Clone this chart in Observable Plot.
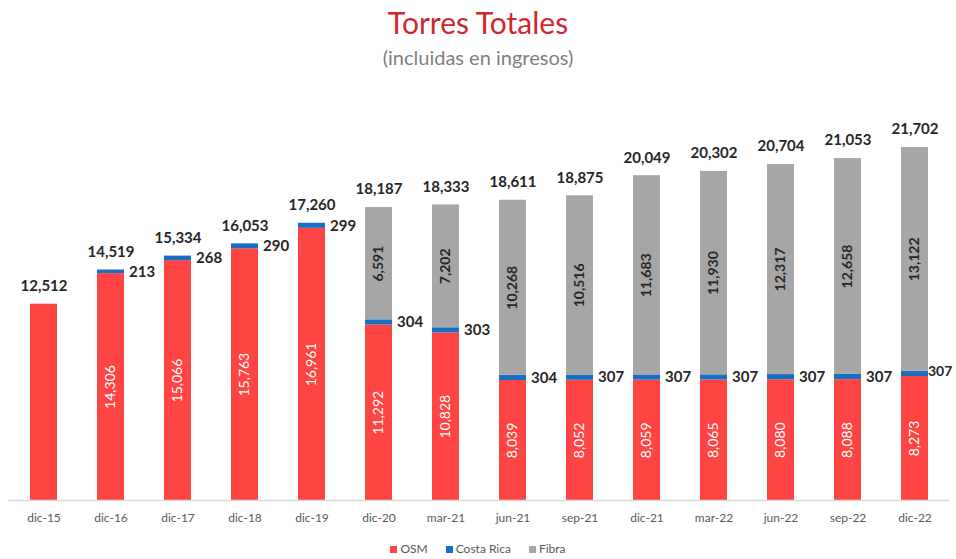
<!DOCTYPE html>
<html>
<head>
<meta charset="utf-8">
<script src="https://cdn.jsdelivr.net/npm/d3@7"></script>
<script src="https://cdn.jsdelivr.net/npm/@observablehq/plot@0.6"></script>
<style>
  html, body { margin: 0; padding: 0; background: #fff; }
  body { width: 956px; height: 559px; overflow: hidden; font-family: Lato, "Open Sans", sans-serif; }
  #head { height: 80px; text-align: center; }
  #title { padding-top: 4px; font-size: 30px; line-height: 36px; color: #d0282e; }
  #subtitle { margin-top: 5px; font-size: 20px; line-height: 24px; color: #7f7f7f; }
  #legend { height: 24px; line-height: 28px; text-align: center; font-size: 12px; color: #595959; }
  #legend span.item { margin: 0 9px; }
  #legend span.sw { display: inline-block; width: 7px; height: 7px; margin-right: 3px; vertical-align: 0px; }
</style>
</head>
<body>
<div id="head">
  <div id="title">Torres Totales</div>
  <div id="subtitle">(incluidas en ingresos)</div>
</div>
<div id="chart"></div>
<div id="legend"></div>
<script>
const categories = ["dic-15","dic-16","dic-17","dic-18","dic-19","dic-20","mar-21","jun-21","sep-21","dic-21","mar-22","jun-22","sep-22","dic-22"];
const osm       = [12512, 14306, 15066, 15763, 16961, 11292, 10828, 8039, 8052, 8059, 8065, 8080, 8088, 8273];
const costaRica = [0, 213, 268, 290, 299, 304, 303, 304, 307, 307, 307, 307, 307, 307];
const fibra     = [0, 0, 0, 0, 0, 6591, 7202, 10268, 10516, 11683, 11930, 12317, 12658, 13122];
const totals    = [12512, 14519, 15334, 16053, 17260, 18187, 18333, 18611, 18875, 20049, 20302, 20704, 21053, 21702];
const seriesNames = ["OSM", "Costa Rica", "Fibra"];
const seriesColors = ["#ff4444", "#1a6ec2", "#a6a6a6"];

const yMin = 1000;
const fmt = d3.format(",");

const rows = [];
categories.forEach((c, i) => {
  [osm[i], costaRica[i], fibra[i]].forEach((v, k) => {
    if (v > 0) rows.push({cat: c, series: seriesNames[k], value: v});
  });
});
const info = categories.map((c, i) => ({cat: c, osm: osm[i], cr: costaRica[i], fibra: fibra[i], total: totals[i], idx: i}));
const last = categories.length - 1;
const crInfo = info.filter(d => d.cr > 0 && d.idx !== last);
const crLast = info.filter(d => d.cr > 0 && d.idx === last);

const chart = Plot.plot({
  width: 956,
  height: 455,
  marginLeft: 8,
  marginRight: 7,
  marginTop: 20,
  marginBottom: 35,
  style: {fontFamily: "Lato, 'Open Sans', sans-serif", background: "#fff"},
  x: {domain: categories, paddingInner: 0.6, paddingOuter: 0.3, label: null, tickSize: 0, tickPadding: 13},
  y: {domain: [yMin, 24460], axis: null},
  color: {domain: seriesNames, range: seriesColors},
  marks: [
    Plot.barY(rows, {x: "cat", y: "value", fill: "series", clip: true}),
    Plot.ruleY([yMin], {stroke: "#d9d9d9", strokeWidth: 1.5}),
    Plot.axisX({tickSize: 0, tickPadding: 13, fontSize: 12, color: "#595959", label: null}),
    Plot.text(info, {x: "cat", y: "total", text: d => fmt(d.total), dy: -18, fontSize: 15, fontWeight: "bold", fill: "#262626"}),
    Plot.text(crInfo, {x: "cat", y: d => d.osm + d.cr / 2, text: d => fmt(d.cr), dx: 18, textAnchor: "start", fontSize: 15, fontWeight: "bold", fill: "#262626"}),
    Plot.text(crLast, {x: "cat", y: d => d.osm + d.cr / 2, text: d => fmt(d.cr), dx: 13, dy: -2, textAnchor: "start", fontSize: 14, fontWeight: "bold", fill: "#262626"}),
    Plot.text(info.filter(d => d.cr > 0), {x: "cat", y: d => (yMin + d.osm) / 2, text: d => fmt(d.osm), rotate: -90, fontSize: 14, fill: "#ffffff"}),
    Plot.text(info.filter(d => d.fibra > 0), {x: "cat", y: d => d.osm + d.cr + d.fibra / 2, text: d => fmt(d.fibra), rotate: -90, fontSize: 14, fontWeight: "bold", fill: "#262626"})
  ]
});
document.getElementById("chart").appendChild(chart);

const legend = document.getElementById("legend");
seriesNames.forEach((name, k) => {
  const item = document.createElement("span");
  item.className = "item";
  const sw = document.createElement("span");
  sw.className = "sw";
  sw.style.background = seriesColors[k];
  item.appendChild(sw);
  item.appendChild(document.createTextNode(name));
  legend.appendChild(item);
});
</script>
</body>
</html>
